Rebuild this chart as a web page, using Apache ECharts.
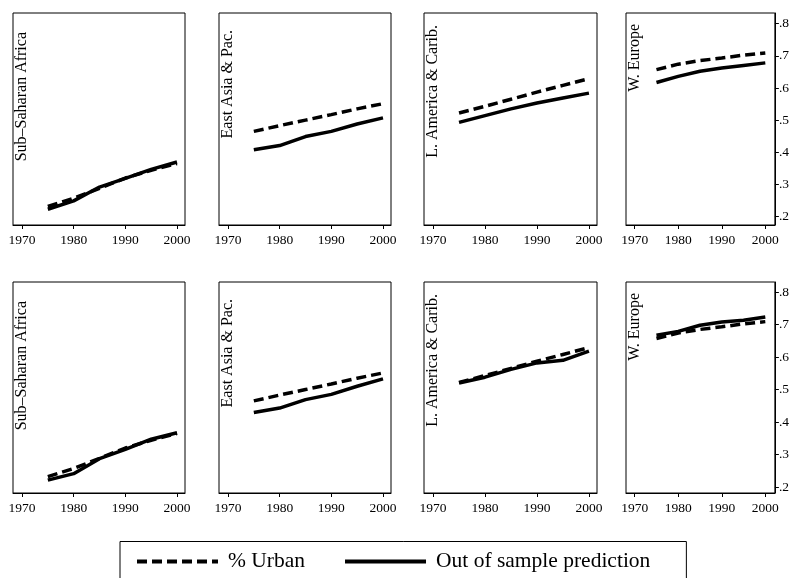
<!DOCTYPE html>
<html>
<head>
<meta charset="utf-8">
<script src="https://cdn.jsdelivr.net/npm/echarts@6/dist/echarts.min.js"></script>
<style>
  html, body { margin: 0; padding: 0; background: #fff; }
  #container { width: 792px; height: 578px; }
</style>
</head>
<body>
<div id="container"></div>
<script>
var years = [1975, 1980, 1985, 1990, 1995, 2000];
var regions = ['Sub\u2013Saharan Africa', 'East Asia & Pac.', 'L. America & Carib.', 'W. Europe'];
var xTicks = [1970, 1980, 1990, 2000];
var yTicks = [0.2, 0.3, 0.4, 0.5, 0.6, 0.7, 0.8];

// % Urban (same in both rows)
var urbanSSA = [0.232, 0.257, 0.288, 0.320, 0.344, 0.365];
var urbanEAP = [0.465, 0.483, 0.500, 0.517, 0.535, 0.551];
var urbanLAC = [0.522, 0.543, 0.565, 0.587, 0.608, 0.629];
var urbanWE = [0.657, 0.674, 0.685, 0.693, 0.702, 0.709];

// out of sample prediction, top row
var predTopSSA = [0.223, 0.249, 0.292, 0.319, 0.347, 0.370];
var predTopEAP = [0.408, 0.421, 0.449, 0.465, 0.488, 0.507];
var predTopLAC = [0.493, 0.514, 0.535, 0.553, 0.569, 0.584];
var predTopWE = [0.617, 0.636, 0.652, 0.662, 0.670, 0.678];

// out of sample prediction, bottom row
var predBotSSA = [0.221, 0.241, 0.287, 0.316, 0.347, 0.367];
var predBotEAP = [0.429, 0.443, 0.469, 0.485, 0.510, 0.533];
var predBotLAC = [0.520, 0.538, 0.562, 0.582, 0.590, 0.618];
var predBotWE = [0.667, 0.679, 0.698, 0.708, 0.713, 0.723];

var urbanRows = [urbanSSA, urbanEAP, urbanLAC, urbanWE];
var predRows = [
  [predTopSSA, predTopEAP, predTopLAC, predTopWE],
  [predBotSSA, predBotEAP, predBotLAC, predBotWE]
];

var serif = 'Liberation Serif';
var colLeft = [13, 219, 424, 626];
var colWidth = [172, 172, 173, 153];
var colXMin = [1968.26, 1968.26, 1968.26, 1968.0];
var colXMax = [2001.55, 2001.55, 2001.55, 2002.2];
var rowTop = [13, 282];
var rowHeight = [212, 211];
var rowYMin = [0.174, 0.1815];
var rowYMax = [0.833, 0.831];
var titleOffset = [19, 17, 12, 11];

function pairs(vals) {
  return years.map(function (y, i) { return [y, vals[i]]; });
}

var grids = [], xAxes = [], yAxes = [], series = [], graphics = [];

for (var r = 0; r < 2; r++) {
  for (var c = 0; c < 4; c++) {
    var idx = grids.length;
    grids.push({
      left: colLeft[c], top: rowTop[r], width: colWidth[c], height: rowHeight[r],
      show: true, borderColor: '#000', borderWidth: 1, backgroundColor: '#fff'
    });
    xAxes.push({
      gridIndex: idx, type: 'value', min: colXMin[c], max: colXMax[c],
      axisLine: { show: true, onZero: false, lineStyle: { color: '#000', width: 1 } },
      axisTick: { show: true, length: 4, lineStyle: { color: '#000' }, customValues: xTicks },
      axisLabel: {
        color: '#000', fontFamily: serif, fontSize: 13.5, margin: 8, customValues: xTicks,
        formatter: function (v) { return String(Math.round(v)); }
      },
      splitLine: { show: false }
    });
    var showY = c === 3;
    yAxes.push({
      gridIndex: idx, type: 'value', min: rowYMin[r], max: rowYMax[r], position: 'right',
      show: showY,
      axisLine: { show: showY, lineStyle: { color: '#000', width: 1 } },
      axisTick: { show: showY, length: 4, lineStyle: { color: '#000' }, customValues: yTicks },
      axisLabel: {
        show: showY, color: '#000', fontFamily: serif, fontSize: 13.5, margin: 4,
        customValues: yTicks,
        formatter: function (v) { return v.toFixed(1).replace(/^0/, ''); }
      },
      splitLine: { show: false }
    });
    series.push({
      name: '% Urban', type: 'line', xAxisIndex: idx, yAxisIndex: idx,
      data: pairs(urbanRows[c]), symbol: 'none',
      lineStyle: { color: '#000', width: 3.5, type: [10, 5] }, itemStyle: { color: '#000' }
    });
    series.push({
      name: 'Out of sample prediction', type: 'line', xAxisIndex: idx, yAxisIndex: idx,
      data: pairs(predRows[r][c]), symbol: 'none',
      lineStyle: { color: '#000', width: 3.5 }, itemStyle: { color: '#000' }
    });
    graphics.push({
      type: 'text', x: colLeft[c] + 9, y: rowTop[r] + titleOffset[c],
      rotation: Math.PI / 2, z: 100,
      style: {
        text: regions[c], fill: '#000', font: '16px "Liberation Serif"',
        textAlign: 'right', textVerticalAlign: 'middle'
      }
    });
  }
}

var dom = document.getElementById('container');
var myChart = echarts.init(dom);

var option = {
  backgroundColor: '#fff',
  animation: false,
  grid: grids,
  xAxis: xAxes,
  yAxis: yAxes,
  series: series,
  graphic: graphics,
  legend: {
    data: ['% Urban', 'Out of sample prediction'],
    left: 120, top: 541.5,
    padding: [9, 36, 12, 15],
    borderColor: '#000', borderWidth: 1,
    itemWidth: 81, itemHeight: 14, itemGap: 38,
    itemStyle: { opacity: 0 },
    lineStyle: { width: 4 },
    textStyle: { color: '#000', fontFamily: serif, fontSize: 21.5, padding: [0, 0, 0, 5] }
  }
};

myChart.setOption(option);
</script>
</body>
</html>
